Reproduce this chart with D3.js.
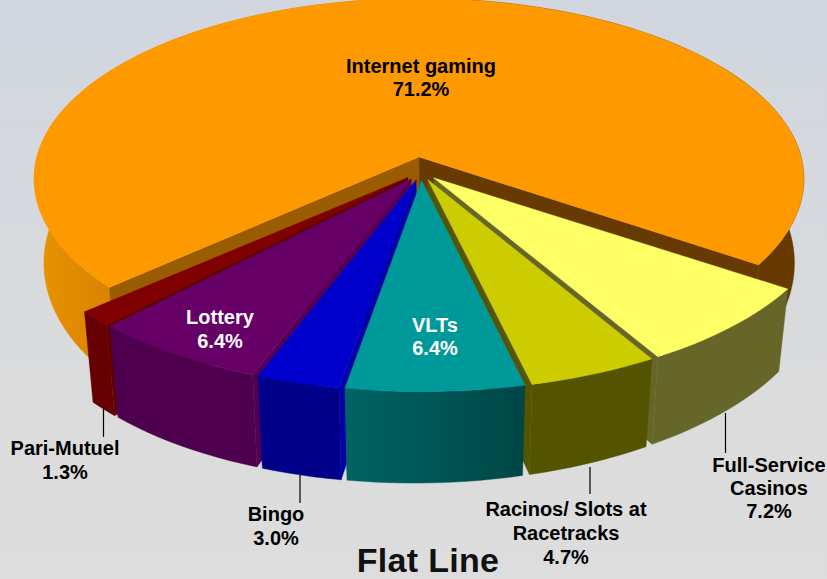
<!DOCTYPE html>
<html><head><meta charset="utf-8">
<script src="https://cdn.jsdelivr.net/npm/d3@7/dist/d3.min.js"></script>
<style>html,body{margin:0;padding:0;background:#dcdcdc;overflow:hidden}svg{display:block}
text{font-family:"Liberation Sans",Arial,sans-serif;font-weight:bold;text-anchor:middle}</style>
</head><body><svg id="c" width="827" height="579"></svg>
<script>
const categories = ["Internet gaming","Full-Service Casinos","Racinos/ Slots at Racetracks","VLTs","Bingo","Lottery","Pari-Mutuel"];
const shares = [71.2,7.2,4.7,6.4,3.0,6.4,1.3];
const percentLabels = ["71.2%","7.2%","4.7%","6.4%","3.0%","6.4%","1.3%"];
const topColors = ["#ff9900","#ffff66","#cccc00","#009999","#0000cc","#660066","#800000"];
const sideColors = ["#de8500","#666629","#545400","#005555","#000088","#4e004e","#660000"];
const wallColors = ["#995c00","#666629","#555500","#005c5c","#0000a8","#520056","#5c0000"];

const W=827,H=579, svg=d3.select("#c");
const defs=svg.append("defs");
const bg=defs.append("linearGradient").attr("id","bg").attr("x1",0).attr("x2",0).attr("y1",0).attr("y2",1);
bg.append("stop").attr("offset",0).attr("stop-color","#d1d6df");
bg.append("stop").attr("offset",0.75).attr("stop-color","#dcdcdc");
bg.append("stop").attr("offset",1).attr("stop-color","#dddddd");
svg.append("rect").attr("width",W).attr("height",H).attr("fill","url(#bg)");

const toRad=d=>d*Math.PI/180;
const pieStart=toRad(124);
const arcs=d3.pie().sort(null).value(d=>d).startAngle(pieStart).endAngle(pieStart+2*Math.PI)(shares.slice(1).concat(shares[0]));
// arcs order: Full, Racinos, VLT, Bingo, Lottery, Pari, Internet
const arcOf=i=>arcs[i===0?6:i-1];

const OX=419,OY=157,RX=386,RY=180,K=0.12,BASE_Y=0.08,EXPLODE=0.047;
const VPX=426,SHRINK=0.975,FRONT_SHIFT=2;
const xs=d3.scaleLinear().domain([0,1]).range([0,RX]);
const ys=d3.scaleLinear().domain([0,1]).range([0,RY]);
function proj(X,Y,bottom,isBack){
  const w=1-K*Y;
  let sx=OX+(isBack?0:FRONT_SHIFT)+xs(X)/w, sy=OY+ys(Y)/w;
  if(bottom){
    sx=VPX+(sx-VPX)*SHRINK;
    sy+= isBack ? 82+18*Y : 78+12*Y-4*X;
  }
  return [sx,sy];
}
function sliceGeom(i){
  const a=arcOf(i), mid=(a.startAngle+a.endAngle)/2, back=i===0;
  const c = back ? [0,0] : [EXPLODE*Math.sin(mid), BASE_Y-EXPLODE*Math.cos(mid)];
  const xr = back ? 0.99 : 1.015;
  const pt=(t,r,b)=>{
    const cosT=Math.cos(t), yr=(back&&cosT>0)?0.985:1;
    return proj(c[0]+xr*r*Math.sin(t),c[1]-yr*r*cosT,b,back);
  };
  return {a,pt};
}
const lineGen=d3.line();
function rimAngles(s,e){const n=Math.max(4,Math.ceil((e-s)/toRad(2)));return d3.range(n+1).map(j=>s+(e-s)*j/n);}

const leftGrad=defs.append("linearGradient").attr("id","leftSide").attr("gradientUnits","userSpaceOnUse")
 .attr("x1",36).attr("x2",110).attr("y1",0).attr("y2",0);
leftGrad.append("stop").attr("offset",0).attr("stop-color","#e89400");
leftGrad.append("stop").attr("offset",1).attr("stop-color","#d98200");
const vltGrad=defs.append("linearGradient").attr("id","vltSide").attr("gradientUnits","userSpaceOnUse")
 .attr("x1",345).attr("x2",525).attr("y1",0).attr("y2",0);
vltGrad.append("stop").attr("offset",0).attr("stop-color","#006464");
vltGrad.append("stop").attr("offset",1).attr("stop-color","#004646");

const plot=svg.append("g");
function poly(pts,fill){plot.append("path").attr("d",lineGen(pts)+"Z").attr("fill",fill).attr("stroke",fill).attr("stroke-width",0.4).attr("stroke-linejoin","round");}
function rimSide(geo,s,e,fill){
  const as=rimAngles(s,e);
  poly(as.map(t=>geo.pt(t,1,false)).concat(as.slice().reverse().map(t=>geo.pt(t,1,true))),fill);
}
function wall(geo,t,fill){
  poly([geo.pt(t,0,false),geo.pt(t,1,false),geo.pt(t,1,true),geo.pt(t,0,true)],fill);
}
function topFace(geo,i){
  const as=rimAngles(geo.a.startAngle,geo.a.endAngle);
  poly([geo.pt(0,0,false)].concat(as.map(t=>geo.pt(t,1,false))),topColors[i]);
}
// painter's order: back slice first, then outside-in toward the front
[0,6,5,4,1,2,3].forEach(i=>{
  const geo=sliceGeom(i), s=geo.a.startAngle, e=geo.a.endAngle;
  if(i===0){
    rimSide(geo,s,2*Math.PI,"url(#leftSide)");
    rimSide(geo,2*Math.PI,e,"#663a00");
    wall(geo,e,"#663a00");
    wall(geo,s,wallColors[0]);
  } else {
    if(i>=4) wall(geo,s,wallColors[i]); else wall(geo,e,wallColors[i]);
    rimSide(geo,s,e,i===3?"url(#vltSide)":sideColors[i]);
  }
  topFace(geo,i);
});

const leaders=[[103.5,407,437],[300,475,503],[590,467,494],[725.5,413,453]];
svg.append("g").selectAll("line").data(leaders).join("line")
 .attr("x1",d=>d[0]).attr("x2",d=>d[0]).attr("y1",d=>d[1]).attr("y2",d=>d[2])
 .attr("stroke","#000").attr("stroke-width",1.2);

const labelLayout=[
 {i:0,x:421,y:73,dy:23,fill:"#000",lines:["Internet gaming"]},
 {i:1,x:769,y:472,dy:23,fill:"#000",lines:["Full-Service","Casinos"]},
 {i:2,x:566,y:516,dy:24,fill:"#000",lines:["Racinos/ Slots at","Racetracks"]},
 {i:3,x:435,y:332,dy:23,fill:"#fff",lines:["VLTs"]},
 {i:4,x:276,y:521,dy:24,fill:"#000",lines:["Bingo"]},
 {i:5,x:220,y:324,dy:24,fill:"#fff",lines:["Lottery"]},
 {i:6,x:65,y:455,dy:24,fill:"#000",lines:["Pari-Mutuel"]}
];
const lab=svg.append("g");
labelLayout.forEach(l=>{
  l.lines.concat(percentLabels[l.i]).forEach((t,j)=>{
    lab.append("text").attr("x",l.x).attr("y",l.y+j*l.dy).attr("font-size",20).attr("fill",l.fill).text(t);
  });
});
svg.append("text").attr("x",428).attr("y",571.5).attr("font-size",34).attr("letter-spacing","0.3px").attr("fill","#111").text("Flat Line");
</script></body></html>
